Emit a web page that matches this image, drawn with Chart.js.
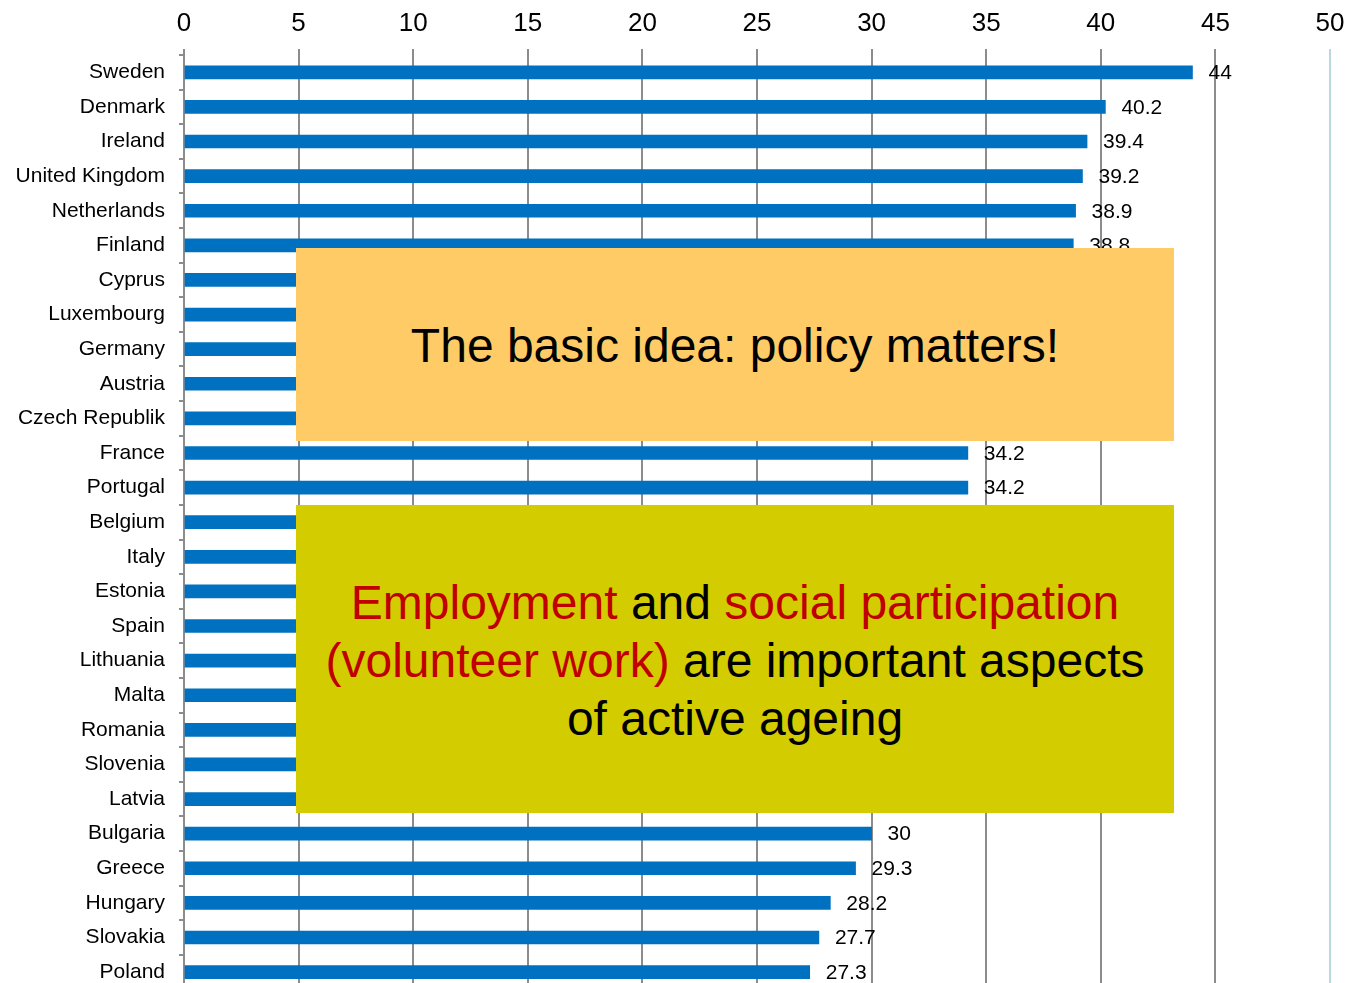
<!DOCTYPE html>
<html>
<head>
<meta charset="utf-8">
<script src="https://cdn.jsdelivr.net/npm/chart.js@4/dist/chart.umd.min.js"></script>
<style>
  html, body { margin: 0; padding: 0; background: #fff; overflow: hidden; width: 1350px; height: 983px; }
  #wrap { position: relative; width: 1350px; height: 1016px; }
  canvas { position: absolute; left: 0; top: 0; }
  .box { position: absolute; display: flex; align-items: center; justify-content: center; text-align: center;
         font-family: "Liberation Sans", Arial, sans-serif; font-size: 48px; color: #000; }
  #b1 { left: 296px; top: 248px; width: 878px; height: 193px; background: #FECB66; }
  #b2 { left: 296px; top: 505px; width: 878px; height: 308px; background: #D3CC00; line-height: 58px; }
  .red { color: #C00000; }
</style>
</head>
<body>
<div id="wrap">
  <canvas id="c" width="1350" height="1016"></canvas>
  <div class="box" id="b1"><div style="margin-top:2px">The basic idea: policy matters!</div></div>
  <div class="box" id="b2"><div style="margin-top:4px"><span class="red">Employment</span> and <span class="red">social participation</span><br><span class="red">(volunteer work)</span> are important aspects<br>of active ageing</div></div>
</div>
<script>
const countries = ["Sweden","Denmark","Ireland","United Kingdom","Netherlands","Finland","Cyprus","Luxembourg","Germany","Austria","Czech Republik","France","Portugal","Belgium","Italy","Estonia","Spain","Lithuania","Malta","Romania","Slovenia","Latvia","Bulgaria","Greece","Hungary","Slovakia","Poland"];
// values hidden behind the boxes in the reference are estimates
const values = [44, 40.2, 39.4, 39.2, 38.9, 38.8, 38.2, 36.9, 36.3, 35.9, 35.0, 34.2, 34.2, 33.8, 33.5, 33.2, 32.6, 32.1, 31.7, 31.2, 30.9, 30.6, 30, 29.3, 28.2, 27.7, 27.3];
const xTicks = [0, 5, 10, 15, 20, 25, 30, 35, 40, 45, 50];

const FONT = "'Liberation Sans', Arial, sans-serif";

const valueLabels = {
  id: 'valueLabels',
  afterDatasetsDraw(chart) {
    const ctx = chart.ctx;
    const meta = chart.getDatasetMeta(0);
    ctx.save();
    ctx.font = "21px " + FONT;
    ctx.fillStyle = "#000";
    ctx.textAlign = "left";
    ctx.textBaseline = "middle";
    meta.data.forEach((el, i) => {
      ctx.fillText(String(values[i]), el.x + 16, el.y + 1);
    });
    ctx.restore();
  }
};

new Chart(document.getElementById('c'), {
  type: 'bar',
  data: {
    labels: countries,
    datasets: [{
      data: values,
      backgroundColor: '#0070C0',
      borderWidth: 0,
      barThickness: 13
    }]
  },
  options: {
    indexAxis: 'y',
    responsive: false,
    animation: false,
    layout: { padding: { left: 0, right: 20, top: 0, bottom: 12 } },
    plugins: { legend: { display: false }, tooltip: { enabled: false } },
    scales: {
      x: {
        position: 'top',
        min: 0, max: 50,
        afterBuildTicks: (s) => { s.ticks = xTicks.map(v => ({ value: v })); },
        afterFit: (s) => { s.height = 55; s.paddingRight = 0; },
        ticks: { font: { family: FONT, size: 26 }, color: '#000', padding: 10 },
        grid: {
          color: (c) => (c.tick && c.tick.value === 50) ? '#b9d9df' : '#8c8c8c',
          lineWidth: 2,
          tickLength: 6
        },
        border: { display: false }
      },
      y: {
        afterFit: (s) => { s.width = 184; },
        ticks: { font: { family: FONT, size: 21 }, color: '#000', padding: 14 },
        grid: { drawOnChartArea: false, color: '#8c8c8c', lineWidth: 2, tickLength: 5, offset: true },
        border: { color: '#8c8c8c', width: 2 }
      }
    }
  },
  plugins: [valueLabels]
});
</script>
</body>
</html>
